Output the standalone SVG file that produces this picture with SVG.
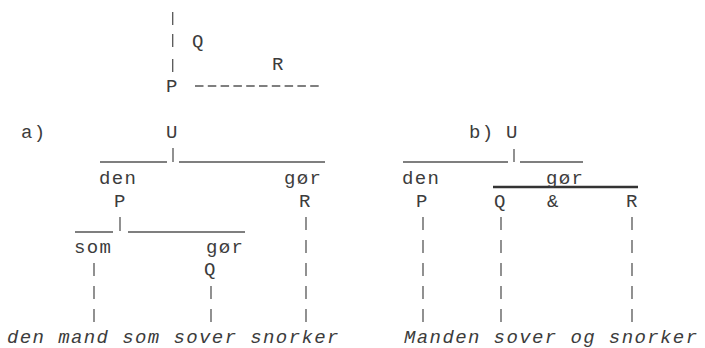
<svg xmlns="http://www.w3.org/2000/svg" width="705" height="348" viewBox="0 0 705 348">
<style>
text { font-family: "Liberation Mono", "DejaVu Sans Mono", monospace; font-size: 19px; letter-spacing: 1.4px; fill: #3c3c3c; }
.it { font-style: italic; }
.bar { stroke: #555; stroke-width: 1.3; }
.rule { stroke: #555; stroke-width: 1.4; }
.thick { stroke: #333; stroke-width: 2.4; }
.dash { stroke: #555; stroke-width: 1.4; stroke-dasharray: 8.5 4.3; }
</style>
<rect width="705" height="348" fill="#fff"/>
<g id="connectors">
  <!-- legend -->
  <line class="bar" x1="172.7" y1="12" x2="172.7" y2="25"/>
  <line class="bar" x1="172.7" y1="34" x2="172.7" y2="47"/>
  <line class="bar" x1="172.7" y1="59" x2="172.7" y2="72"/>
  <line class="dash" x1="195" y1="86" x2="323" y2="86"/>
  <!-- a) -->
  <line class="rule" x1="100" y1="162" x2="167" y2="162"/>
  <line class="bar" x1="173" y1="148" x2="173" y2="162"/>
  <line class="rule" x1="179" y1="162" x2="325" y2="162"/>
  <line class="rule" x1="75" y1="232" x2="113" y2="232"/>
  <line class="bar" x1="120" y1="217" x2="120" y2="231"/>
  <line class="rule" x1="128" y1="232" x2="245" y2="232"/>
  <line class="bar" x1="306" y1="217" x2="306" y2="230"/>
  <line class="bar" x1="306" y1="240" x2="306" y2="253"/>
  <line class="bar" x1="306" y1="263" x2="306" y2="276"/>
  <line class="bar" x1="306" y1="286" x2="306" y2="299"/>
  <line class="bar" x1="306" y1="309" x2="306" y2="322"/>
  <line class="bar" x1="94" y1="263" x2="94" y2="276"/>
  <line class="bar" x1="94" y1="286" x2="94" y2="299"/>
  <line class="bar" x1="94" y1="309" x2="94" y2="322"/>
  <line class="bar" x1="211" y1="286" x2="211" y2="299"/>
  <line class="bar" x1="211" y1="309" x2="211" y2="322"/>
  <!-- b) -->
  <line class="rule" x1="403" y1="162" x2="508" y2="162"/>
  <line class="bar" x1="514" y1="149" x2="514" y2="162"/>
  <line class="rule" x1="520" y1="162" x2="583" y2="162"/>
  <line class="thick" x1="493" y1="187" x2="638" y2="187"/>
  <line class="bar" x1="423" y1="217" x2="423" y2="230"/>
  <line class="bar" x1="423" y1="240" x2="423" y2="253"/>
  <line class="bar" x1="423" y1="263" x2="423" y2="276"/>
  <line class="bar" x1="423" y1="286" x2="423" y2="299"/>
  <line class="bar" x1="423" y1="309" x2="423" y2="322"/>
  <line class="bar" x1="501" y1="217" x2="501" y2="230"/>
  <line class="bar" x1="501" y1="240" x2="501" y2="253"/>
  <line class="bar" x1="501" y1="263" x2="501" y2="276"/>
  <line class="bar" x1="501" y1="286" x2="501" y2="299"/>
  <line class="bar" x1="501" y1="309" x2="501" y2="322"/>
  <line class="bar" x1="632" y1="217" x2="632" y2="230"/>
  <line class="bar" x1="632" y1="240" x2="632" y2="253"/>
  <line class="bar" x1="632" y1="263" x2="632" y2="276"/>
  <line class="bar" x1="632" y1="286" x2="632" y2="299"/>
  <line class="bar" x1="632" y1="309" x2="632" y2="322"/>
</g>
<g id="legend">
  <text x="192" y="47">Q</text>
  <text x="272" y="70">R</text>
  <text x="166" y="92">P</text>
</g>
<g id="tree-a">
  <g id="a-label"><text x="21" y="138">a)</text></g>
  <g id="a-U"><text x="166" y="138">U</text></g>
  <g id="a-den-P"><text x="99" y="184">den</text><text x="114" y="207">P</text></g>
  <g id="a-gor-R"><text x="284" y="184">gør</text><text x="299" y="207">R</text></g>
  <g id="a-som"><text x="74" y="253">som</text></g>
  <g id="a-gor-Q"><text x="206" y="253">gør</text><text x="204" y="275">Q</text></g>
  <g id="a-sentence"><text class="it" x="7" y="343">den mand som sover snorker</text></g>
</g>
<g id="tree-b">
  <g id="b-label"><text x="469" y="138">b)</text></g>
  <g id="b-U"><text x="506" y="138">U</text></g>
  <g id="b-den-P"><text x="402" y="184">den</text><text x="416" y="207">P</text></g>
  <g id="b-gor"><text x="546" y="184">gør</text></g>
  <g id="b-Q"><text x="494" y="207">Q</text></g>
  <g id="b-amp"><text x="547" y="207">&amp;</text></g>
  <g id="b-R"><text x="626" y="207">R</text></g>
  <g id="b-sentence"><text class="it" x="404" y="343">Manden sover og snorker</text></g>
</g>
</svg>
